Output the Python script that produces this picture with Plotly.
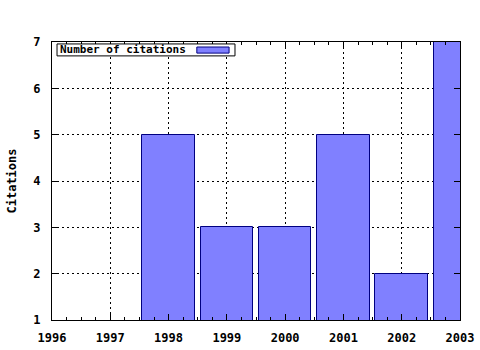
import plotly.graph_objects as go

years = [1998, 1999, 2000, 2001, 2002, 2003]
citations = [5, 3, 3, 5, 2, 7]
series_name = "Number of citations"
y_title = "Citations"

FONT = "DejaVu Sans Mono"
fig = go.Figure()
fig.add_trace(go.Bar(
    x=years, y=citations, width=0.9, name=series_name,
    marker=dict(color="#8080ff", line=dict(color="#000080", width=1)),
    showlegend=False,
))

axis_common = dict(
    showline=True, linecolor="black", linewidth=1, mirror="ticks",
    ticks="inside", tickcolor="black", ticklen=6, tickwidth=1,
    showgrid=True, gridcolor="black", gridwidth=1, griddash="2px,3px",
    zeroline=False, automargin=False,
    tickfont=dict(family=FONT, size=12, color="black", weight="bold"),
)

fig.update_layout(
    width=480, height=350,
    margin=dict(l=52, r=20, t=42, b=30),
    paper_bgcolor="white", plot_bgcolor="white",
    bargap=0,
    xaxis=dict(range=[1996, 2003], dtick=1, tick0=1996, ticklabelstandoff=7,
               minor=dict(dtick=0.25, ticks="inside", ticklen=3, tickcolor="black", showgrid=False),
               **axis_common),
    yaxis=dict(range=[1, 7], dtick=1, tick0=1, ticklabelstandoff=8,
               title=dict(text=y_title, font=dict(family=FONT, size=12, color="black", weight="bold"), standoff=14),
               **axis_common),
)

# legend box (gnuplot style: text then swatch)
fig.add_shape(type="rect", xref="paper", yref="paper", x0=0.0123, x1=0.4485, y0=0.950, y1=0.993,
              line=dict(color="black", width=1), fillcolor="white", layer="above")
fig.add_shape(type="rect", xref="paper", yref="paper", x0=0.355, x1=0.434, y0=0.960, y1=0.982,
              line=dict(color="#000080", width=1), fillcolor="#8080ff", layer="above")
fig.add_annotation(xref="paper", yref="paper", x=0.0147, y=0.9715, xanchor="left", yanchor="middle",
                   text=series_name, showarrow=False,
                   font=dict(family=FONT, size=11, color="black", weight="bold"))

fig.write_html("out.html")
